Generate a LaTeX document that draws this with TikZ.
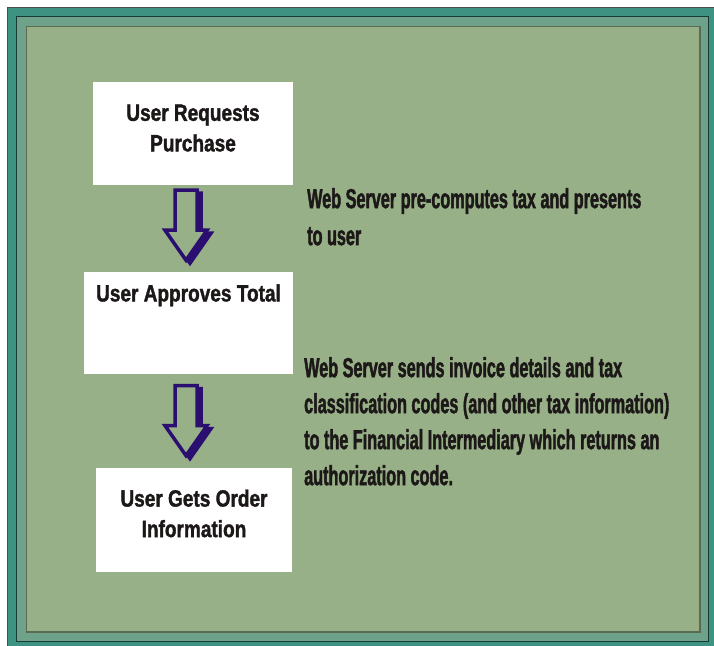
\documentclass[tikz,border=0pt]{standalone}
\usepackage{fontspec}
\usepackage{tikz}
\usetikzlibrary{positioning,calc}

\newfontfamily\boxfont{Liberation Sans}[FakeStretch=0.81,FakeBold=1.5]
\newfontfamily\notefont{Liberation Sans}[FakeStretch=0.59,FakeBold=1.5]

\definecolor{frameteal}{RGB}{62,146,130}
\definecolor{bandteal}{RGB}{110,162,138}
\definecolor{panelgreen}{RGB}{152,176,136}
\definecolor{arrowpurple}{RGB}{42,14,112}
\definecolor{inkblack}{RGB}{28,24,24}

\begin{document}
\begin{tikzpicture}[x=1pt,y=-1pt,
  box/.style={fill=white,inner sep=0pt,align=center,text=inkblack,
    font=\boxfont\bfseries\fontsize{23.5}{30.5}\selectfont},
  note/.style={anchor=north west,inner sep=0pt,align=left,text=inkblack,
    font=\notefont\bfseries\fontsize{27.5}{37}\selectfont},
  downarrow/.pic={
    \filldraw[arrowpurple,line width=3.5pt,line join=miter,shift={(4,3)}]
      (-11,0) -- (11,0) -- (11,40) -- (21,40) -- (0,70) -- (-21,40) -- (-11,40) -- cycle;
    \filldraw[fill=panelgreen,draw=arrowpurple,line width=3.5pt,line join=miter]
      (-11,0) -- (11,0) -- (11,40) -- (21,40) -- (0,70) -- (-21,40) -- (-11,40) -- cycle;
  }]

  \useasboundingbox (0,0) rectangle (714,645);
  \clip (0,0) rectangle (714,645);

  % frame
  \filldraw[fill=frameteal,draw=black!70,line width=1pt] (7.5,7.5) rectangle (720,650);
  \filldraw[fill=bandteal,draw=black!60!frameteal,line width=1pt] (16.5,16.5) rectangle (708,641);
  \filldraw[fill=panelgreen,draw=black!40!panelgreen,line width=1.2pt] (26.5,26.5) rectangle (700,632);

  % boxes
  \node[box,minimum width=200pt,minimum height=103pt,text depth=11pt] (req) at (193,133.5)
    {User Requests\\Purchase};
  \node[box,minimum width=209pt,minimum height=102pt,text depth=61pt] (appr)
    [below=87pt of req,xshift=-4.5pt] {User Approves Total};
  \node[box,minimum width=196pt,minimum height=104pt,text depth=13pt] (info)
    [below=93pt of appr,xshift=5.5pt] {User Gets Order\\Information};

  \pic at ($(req.south)+(-7,5)$) {downarrow};
  \pic at ($(appr.south)+(-2.5,11)$) {downarrow};

  % notes
  \node[note] (tax) at (307,188) {Web Server pre-computes tax and presents\\to user};
  \node[note,font=\notefont\bfseries\fontsize{27.5}{36}\selectfont] (auth) at (304,357)
    {Web Server sends invoice details and tax\\classification codes (and other tax information)\\to the Financial Intermediary which returns an\\authorization code.};
\end{tikzpicture}
\end{document}
